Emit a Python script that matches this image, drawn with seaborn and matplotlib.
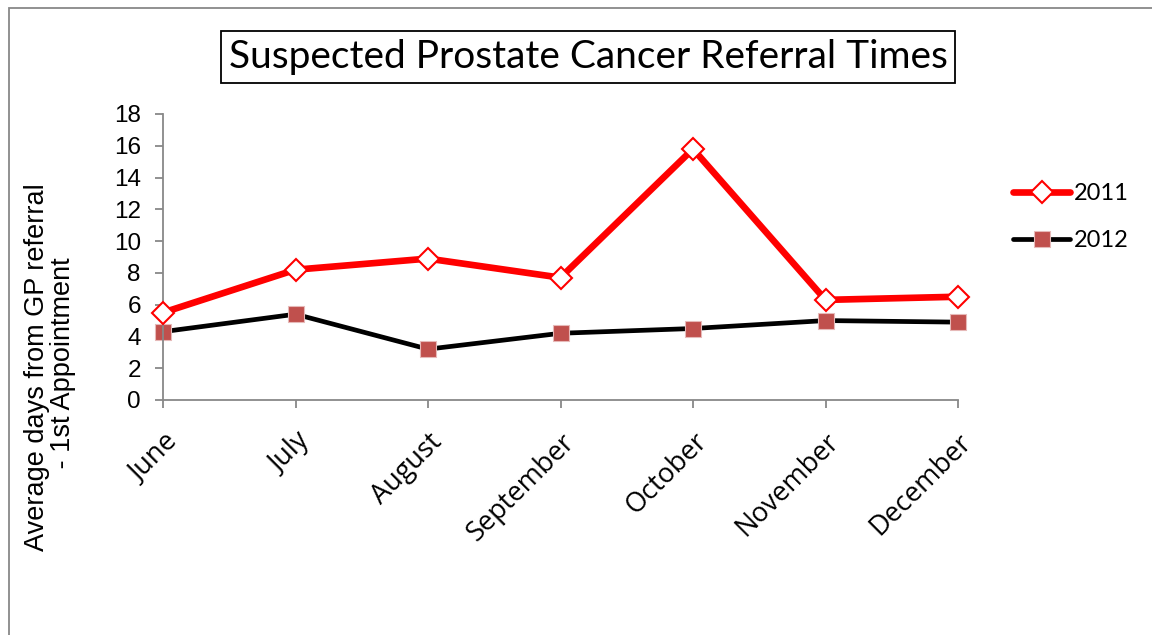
import matplotlib
matplotlib.use("Agg")
import matplotlib.pyplot as plt
import seaborn as sns
import pandas as pd
from matplotlib.patches import Rectangle

months = ["June", "July", "August", "September", "October", "November", "December"]
y2011 = [5.5, 8.2, 8.9, 7.7, 15.8, 6.3, 6.5]
y2012 = [4.3, 5.4, 3.2, 4.2, 4.5, 5.0, 4.9]
yticks = [0, 2, 4, 6, 8, 10, 12, 14, 16, 18]
title = "Suspected Prostate Cancer Referral Times"
ylabel = "Average days from GP referral\n - 1st Appointment"

sns.set_theme(style="white")
plt.rcParams["font.family"] = ["Liberation Sans", "DejaVu Sans"]
plt.rcParams["text.color"] = "black"
plt.rcParams["xtick.color"] = "black"
plt.rcParams["ytick.color"] = "black"
plt.rcParams["axes.labelcolor"] = "black"

W, H = 1152, 635
fig = plt.figure(figsize=(W / 100, H / 100), dpi=100)
ax = fig.add_axes([163 / W, 1 - 400 / H, (958 - 163) / W, (400 - 114) / H])

df = pd.DataFrame({"month": months, "y2011": y2011, "y2012": y2012})
x = list(range(len(months)))

sns.lineplot(x=x, y=df["y2011"], ax=ax, color="#FF0000", lw=4.8, marker="D",
             markersize=11.5, markerfacecolor="white", markeredgecolor="#FF0000",
             markeredgewidth=1.5, label="2011", sort=False, zorder=3, clip_on=False)
sns.lineplot(x=x, y=df["y2012"], ax=ax, color="black", lw=3.4, marker="s",
             markersize=12, markerfacecolor="#C0504D", markeredgecolor="#E6B9B8",
             markeredgewidth=0.8, label="2012", sort=False, zorder=2, clip_on=False)

ax.set_xlim(0, len(months) - 1)
ax.set_ylim(0, 18)
ax.set_yticks(yticks)
ax.set_yticklabels([str(v) for v in yticks])
ax.set_xticks(x)
ax.set_xticklabels(months, rotation=45, ha="right", rotation_mode="anchor")
for lab in ax.get_yticklabels():
    lab.set_fontfamily(["Liberation Sans", "DejaVu Sans"])
    lab.set_fontsize(17.5)
    lab.set_color("black")
for lab in ax.get_xticklabels():
    lab.set_fontfamily(["Open Sans", "DejaVu Sans"])
    lab.set_fontsize(19.5)
    lab.set_color("black")
ax.set_xlabel("")
ax.set_ylabel("")

for s in ["top", "right"]:
    ax.spines[s].set_visible(False)
for s in ["left", "bottom"]:
    ax.spines[s].set_color("#888888")
    ax.spines[s].set_linewidth(1.3)
ax.tick_params(axis="both", which="both", direction="out", color="#888888",
               width=1.3, length=6, left=True, bottom=True)
ax.tick_params(axis="y", pad=10)
ax.tick_params(axis="x", pad=14)
ax.grid(False)

# y label
fig.text(50 / W, 1 - 367 / H, ylabel, rotation=90, ha="center", va="center",
         fontsize=19.5, fontfamily="Liberation Sans", linespacing=1.0,
         multialignment="center", color="black")

# title in a box
fig.text(588 / W, 1 - 57 / H, title, ha="center", va="center", fontsize=28,
         fontfamily=["Lato", "DejaVu Sans"], color="black",
         bbox=dict(boxstyle="square,pad=0.2", facecolor="white",
                   edgecolor="black", linewidth=1.3))

# legend
leg = ax.legend(loc="center left", bbox_to_anchor=(992 / W, 1 - 217 / H),
                bbox_transform=fig.transFigure, frameon=False,
                prop={"family": ["Lato", "DejaVu Sans"], "size": 17},
                handlelength=2.4, handletextpad=0.15, labelspacing=1.1)
for t in leg.get_texts():
    t.set_color("black")

# outer chart frame
fig.patches.append(Rectangle((9 / W, -0.1), 1.2, 1 - 8 / H + 0.1,
                             transform=fig.transFigure, fill=False,
                             edgecolor="#888888", linewidth=1.3))

fig.savefig("out.png", dpi=100, facecolor="white")
